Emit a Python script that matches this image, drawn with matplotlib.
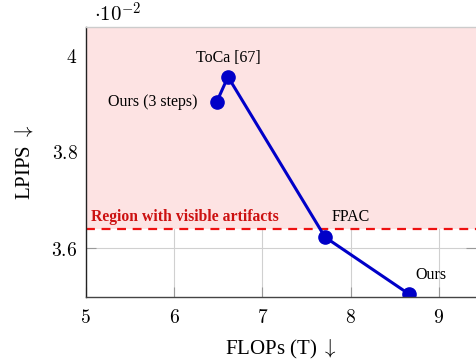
import matplotlib
matplotlib.use("Agg")
import matplotlib.pyplot as plt

flops = [6.48, 6.61, 7.71, 8.655]
lpips = [3.902, 3.955, 3.623, 3.506]
names = ["Ours (3 steps)", "ToCa [67]", "FPAC", "Ours"]
xticks = [5, 6, 7, 8, 9]
yticks = [3.6, 3.8, 4.0]
threshold = 3.64

plt.rcParams['mathtext.fontset'] = 'cm'
serif = ['Liberation Serif', 'DejaVu Serif']

fig = plt.figure(figsize=(4.77, 3.6), dpi=100)
ax = fig.add_axes([0.180, 0.176, 0.818, 0.749])
ax.set_xlim(5, 9.42)
ax.set_ylim(3.5, 4.058)
ax.set_axisbelow(True)

ax.grid(True, color='#d0d0d0', linewidth=0.8)
ax.axhspan(threshold, 4.058, color='#fde3e3', zorder=1, lw=0)
ax.axhline(threshold, color='#ee1111', linestyle=(0, (4, 3)), linewidth=1.6, zorder=2)

ax.plot(flops, lpips, color='#0000c8', linewidth=2.2, marker='o', markersize=9.5, zorder=4)

offsets = [(-13.5, 0, 'right', 'center'), (0, 8, 'center', 'bottom'),
           (5, 9, 'left', 'bottom'), (5, 8, 'left', 'bottom')]
for x, y, n, (dx, dy, ha, va) in zip(flops, lpips, names, offsets):
    ax.annotate(n, (x, y), xytext=(dx, dy), textcoords='offset points',
                ha=ha, va=va, fontsize=11.5, family=serif, zorder=5)

ax.text(0.014, threshold + 0.008, 'Region with visible artifacts', transform=ax.get_yaxis_transform(),
        color='#cc1111', fontsize=11.3, fontweight='bold', family=serif, va='bottom', ha='left', zorder=5)

ax.set_xticks(xticks)
ax.set_xticklabels([f'${t:g}$' for t in xticks], fontsize=14)
ax.set_yticks(yticks)
ax.set_yticklabels([f'${t:g}$' for t in yticks], fontsize=14)
ax.tick_params(direction='in', length=7, color='#999999', pad=6, right=True)
ax.tick_params(axis='x', pad=8)

ax.spines['left'].set_color('#222222')
ax.spines['bottom'].set_color('#444444')
ax.spines['top'].set_color('#cccccc')
ax.spines['right'].set_visible(False)
for s in ax.spines.values():
    s.set_linewidth(1.0)
    s.set_zorder(6)

ax.set_xlabel(r'FLOPs (T) $\downarrow$', fontsize=15, family=serif, labelpad=8)
ax.set_ylabel(r'LPIPS $\downarrow$', fontsize=15, family=serif, labelpad=12)
fig.text(0.198, 0.962, r'$\cdot 10^{-2}$', fontsize=15, ha='left', va='center')

fig.savefig('out.png', dpi=100)
